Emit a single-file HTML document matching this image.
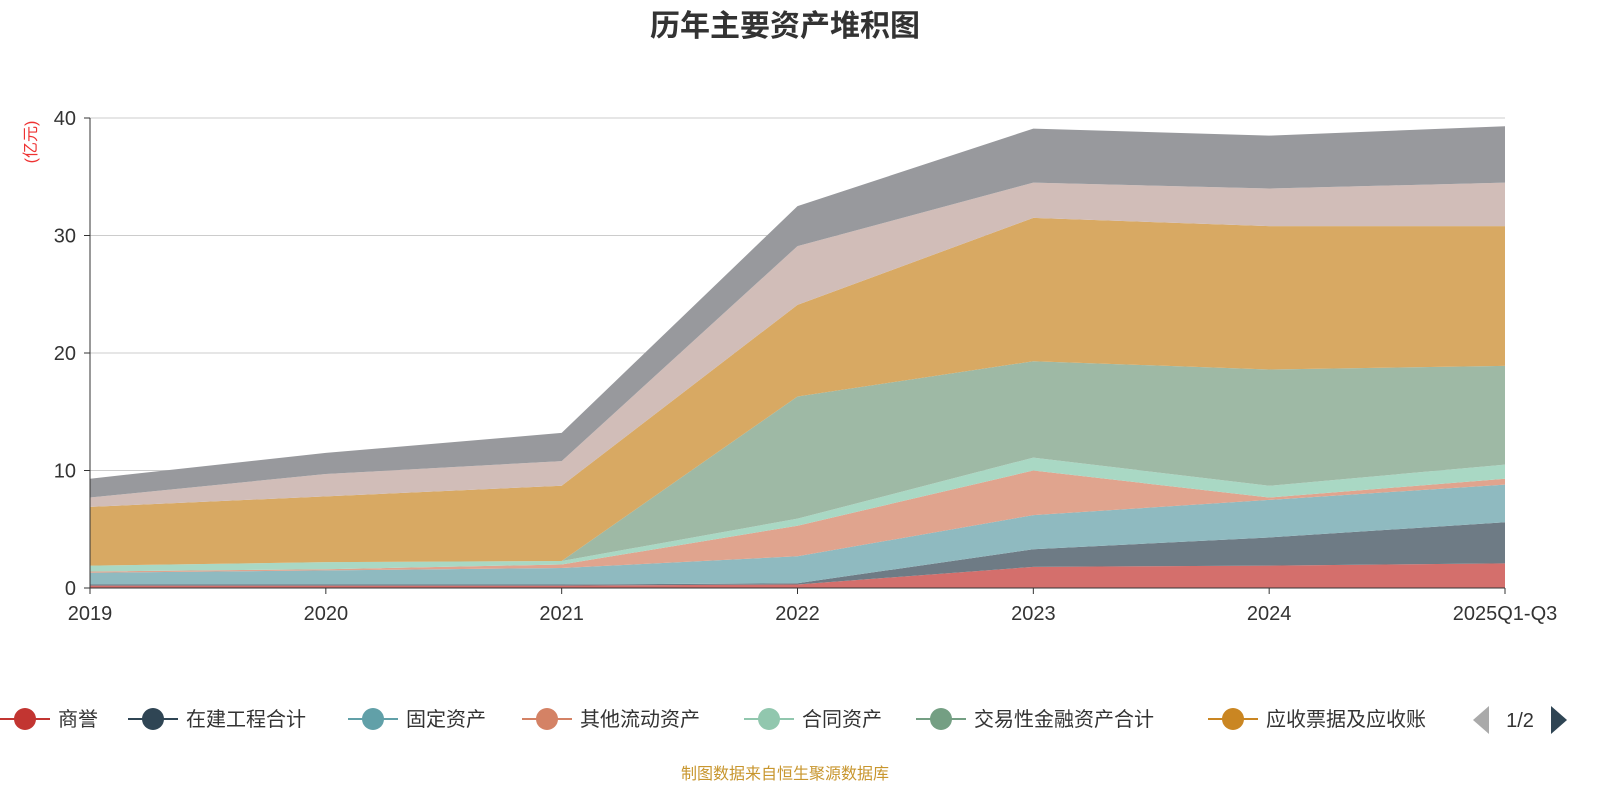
<!DOCTYPE html>
<html><head><meta charset="utf-8"><style>
body{margin:0;background:#fff;font-family:"Liberation Sans","Noto Sans CJK SC",sans-serif}
</style></head><body>
<svg width="1600" height="800" xmlns="http://www.w3.org/2000/svg" style="font-family:'Liberation Sans','Noto Sans CJK SC',sans-serif">
<text x="785" y="36" text-anchor="middle" font-size="30" font-weight="bold" fill="#333">历年主要资产堆积图</text>
<text transform="translate(36,142) rotate(-90)" text-anchor="middle" font-size="16" fill="#e33">(亿元)</text>
<g id="grid"></g><g id="areas"></g><g id="axes"></g><g id="legend"></g>
<text x="785" y="779" text-anchor="middle" font-size="16" fill="#c8962e">制图数据来自恒生聚源数据库</text>
</svg>
<script>
const categories=["2019","2020","2021","2022","2023","2024","2025Q1-Q3"];
const seriesNames=["商誉","在建工程合计","固定资产","其他流动资产","合同资产","交易性金融资产合计","应收票据及应收账","其他资产A","其他资产B"];
const s1=[0.2,0.2,0.2,0.3,1.8,1.9,2.1];
const s2=[0.1,0.1,0.1,0.1,1.5,2.4,3.5];
const s3=[1.0,1.2,1.4,2.3,2.9,3.2,3.2];
const s4=[0.1,0.1,0.3,2.6,3.8,0.2,0.5];
const s5=[0.5,0.6,0.3,0.6,1.1,1.0,1.2];
const s6=[0.0,0.0,0.0,10.4,8.2,9.9,8.4];
const s7=[5.0,5.6,6.4,7.8,12.2,12.2,11.9];
const s8=[0.8,1.9,2.1,5.0,3.0,3.2,3.7];
const s9=[1.6,1.8,2.4,3.4,4.6,4.5,4.8];
const yTicks=[0,10,20,30,40];
const series=[s1,s2,s3,s4,s5,s6,s7,s8,s9];
const fills=["#d46f6c","#6e7b85","#8fbac0","#e0a48e","#a9d8c4","#9eb9a5","#d8a963","#d1bdb8","#98999d"];
const legendColors=["#c23531","#2f4554","#61a0a8","#d48265","#91c7ae","#749f83","#ca8622"];
const NS="http://www.w3.org/2000/svg";
const X0=90,X1=1505,Y0=588,Y1=118,YMAX=40;
const x=i=>X0+(X1-X0)*i/(categories.length-1);
const y=v=>Y0-(Y0-Y1)*v/YMAX;
function mk(t,a,p){const e=document.createElementNS(NS,t);for(const k in a)e.setAttribute(k,a[k]);p.appendChild(e);return e;}
const grid=document.getElementById('grid'),axes=document.getElementById('axes'),areas=document.getElementById('areas'),legend=document.getElementById('legend');
yTicks.forEach(t=>{
 if(t>0){const l=mk('line',{x1:X0,x2:X1,y1:y(t),y2:y(t),stroke:'#ccc'},grid);
 
 }
 const tx=mk('text',{x:X0-14,y:y(t)+7,'text-anchor':'end','font-size':20,fill:'#333'},axes);tx.textContent=t;
 
 
 mk('line',{x1:X0-6,x2:X0,y1:y(t),y2:y(t),stroke:'#333'},axes);
});
let base=categories.map(()=>0);
series.forEach((s,k)=>{
 const top=base.map((b,i)=>b+s[i]);
 let d='M'+top.map((v,i)=>x(i)+','+y(v)).join('L');
 for(let i=categories.length-1;i>=0;i--)d+='L'+x(i)+','+y(base[i]);
 const p=mk('path',{d:d+'Z',fill:fills[k]},areas);
 
 
 base=top;
});
mk('line',{x1:X0,x2:X0,y1:Y1,y2:Y0,stroke:'#333'},axes);
mk('line',{x1:X0,x2:X1,y1:Y0,y2:Y0,stroke:'#333'},axes);
categories.forEach((c,i)=>{
 mk('line',{x1:x(i),x2:x(i),y1:Y0,y2:Y0+6,stroke:'#333'},axes);
 const t=mk('text',{x:x(i),y:Y0+32,'text-anchor':'middle','font-size':20,fill:'#333'},axes);t.textContent=c;
 
 
});
const lx=[0,128,348,522,744,916,1208];
lx.forEach((lxv,k)=>{
 const g=mk('g',{},legend);
 
 
 mk('line',{x1:lxv,x2:lxv+50,y1:719,y2:719,stroke:legendColors[k],'stroke-width':2},g);
 mk('circle',{cx:lxv+25,cy:719,r:11,fill:legendColors[k]},g);
 const t=mk('text',{x:lxv+58,y:726,'font-size':20,fill:'#333'},g);t.textContent=seriesNames[k];
});
mk('path',{d:'M1489,706L1489,734L1473,720Z',fill:'#aaa'},legend);
const pg=mk('text',{x:1520,y:727,'text-anchor':'middle','font-size':20,fill:'#333'},legend);pg.textContent='1/2';
const nx=mk('path',{d:'M1551,706L1551,734L1567,720Z',fill:'#2f4554'},legend);


</script>
</body></html>
